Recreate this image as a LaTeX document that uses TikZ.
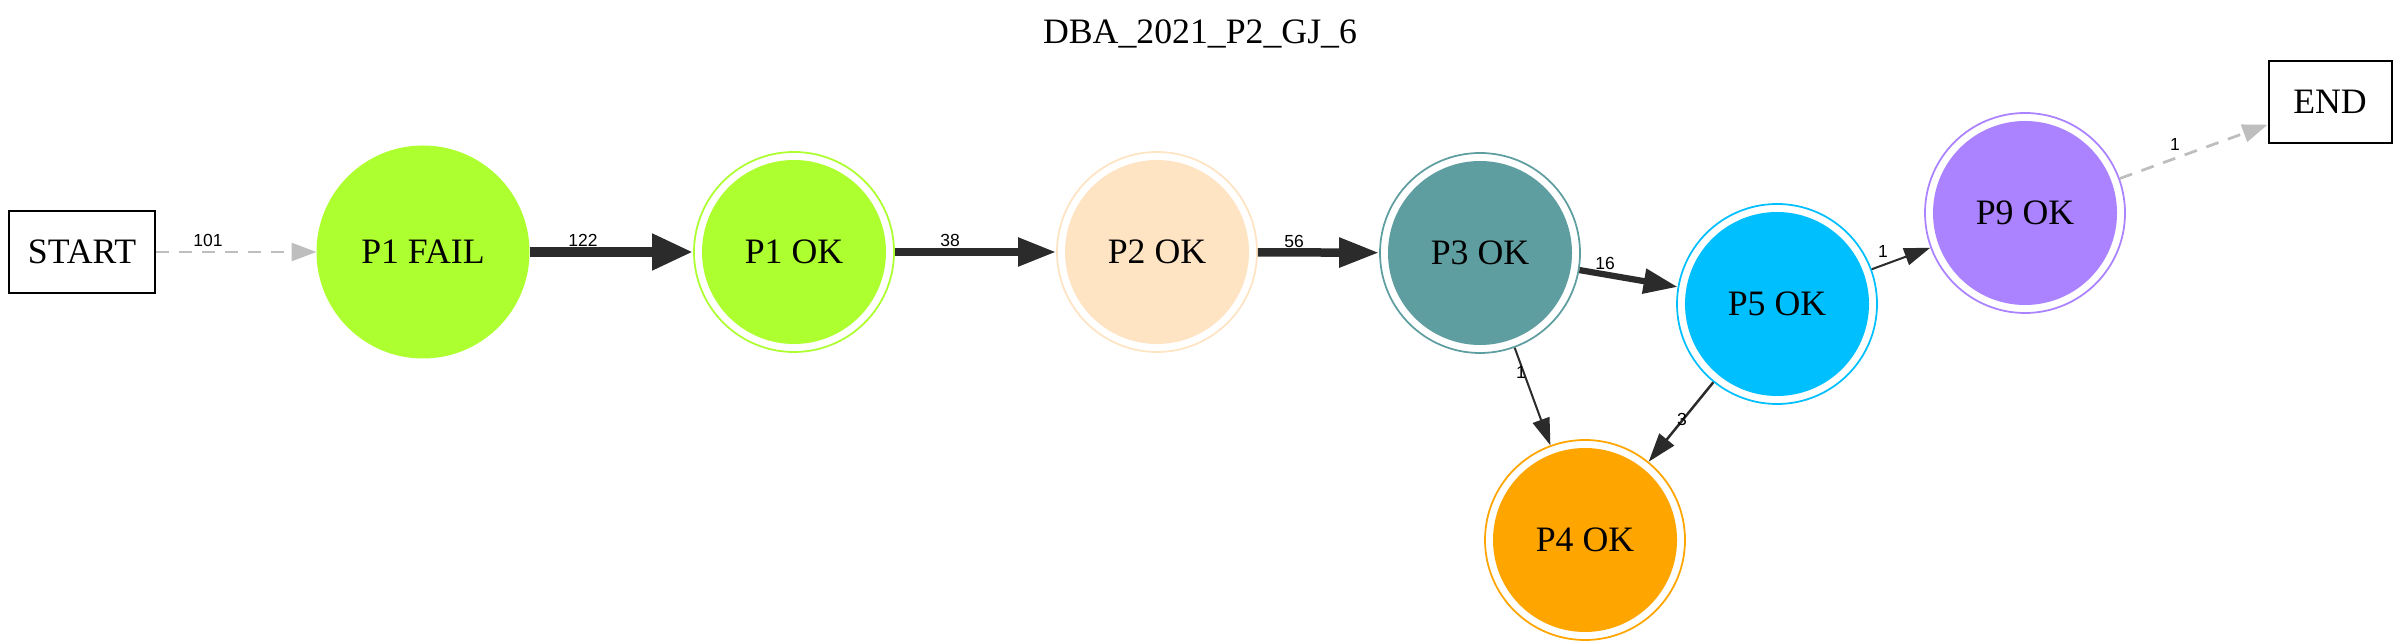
\documentclass[tikz,border=0pt]{standalone}
\usepackage{fontspec}
\setmainfont{Liberation Serif}
\newfontfamily\lblfont{Liberation Sans}
\usetikzlibrary{arrows.meta}
\definecolor{cGreen}{HTML}{ADFF2F}
\definecolor{cBisque}{HTML}{FFE4C4}
\definecolor{cCadet}{HTML}{5F9EA0}
\definecolor{cSky}{HTML}{00BFFF}
\definecolor{cPurple}{HTML}{AB82FF}
\definecolor{cOrange}{HTML}{FFA500}
\definecolor{cEdge}{HTML}{2B2B2B}
\definecolor{cGray}{HTML}{BEBEBE}
\tikzset{
  txt/.style={font=\fontsize{14.3}{16}\selectfont},
  boxnode/.style={txt, draw=black, line width=0.8pt, minimum height=32.8pt, inner sep=0pt},
  dcirc/.style={txt, circle, draw=#1, line width=0.7pt, fill=white, minimum size=80pt, inner sep=0pt,
    path picture={\fill[#1] (path picture bounding box.center) circle[radius=36.8pt];}},
  scirc/.style={txt, circle, draw=#1, fill=#1, minimum size=84.8pt, inner sep=0pt},
  lbl/.style={font=\lblfont\fontsize{7}{8}\selectfont, inner sep=0pt},
  gedge/.style={draw=cGray, line width=1.1pt, dash pattern=on 5.2pt off 4pt, -{Triangle[length=10pt,width=7.2pt]}},
  kedge/.style n args={3}{draw=cEdge, line width=#1, -{Triangle[length=#2,width=#3]}},
}
\begin{document}
\begin{tikzpicture}[x=0.4pt,y=-0.4pt]
\useasboundingbox (0,0) rectangle (2400,644);
\node[txt] (title) at (1200,34) {DBA\_2021\_P2\_GJ\_6};
\node[boxnode, minimum width=58.4pt] (start) at (82,252) {START};
\node[boxnode, minimum width=49.2pt] (end) at (2330,102) {END};
\node[scirc=cGreen] (p1f) at (423,252) {P1 FAIL};
\node[dcirc=cGreen] (p1) at (794,252) {P1 OK};
\node[dcirc=cBisque] (p2) at (1157,252) {P2 OK};
\node[dcirc=cCadet] (p3) at (1480,253) {P3 OK};
\node[dcirc=cSky] (p5) at (1777,304) {P5 OK};
\node[dcirc=cOrange] (p4) at (1585,540) {P4 OK};
\node[dcirc=cPurple] (p9) at (2025,213) {P9 OK};

\draw[gedge] (start) -- (p1f);
\draw[kedge={4.3pt}{16.4pt}{13.6pt}] (p1f) -- (p1);
\draw[kedge={3.2pt}{15.2pt}{10.8pt}] (p1) -- (p2);
\draw[kedge={3.4pt}{16pt}{11.2pt}] (p2) -- (p3);
\draw[kedge={2.5pt}{13.6pt}{9.6pt}] (p3) -- (p5);
\draw[kedge={0.8pt}{10.8pt}{7pt}] (p3) -- (p4);
\draw[kedge={1pt}{11.5pt}{7.5pt}] (p5) -- (p4);
\draw[kedge={0.8pt}{10.4pt}{7pt}] (p5) -- (p9);
\draw[gedge] (p9) -- (end);

\node[lbl] (l101) at (208,240) {101};
\node[lbl] (l122) at (583,240) {122};
\node[lbl] (l38) at (950,240) {38};
\node[lbl] (l56) at (1294,241) {56};
\node[lbl] (l16) at (1605,263) {16};
\node[lbl] (l1a) at (1521,372) {1};
\node[lbl] (l3) at (1682,419) {3};
\node[lbl] (l1b) at (1883,251) {1};
\node[lbl] (l1c) at (2175,144) {1};
\end{tikzpicture}
\end{document}
